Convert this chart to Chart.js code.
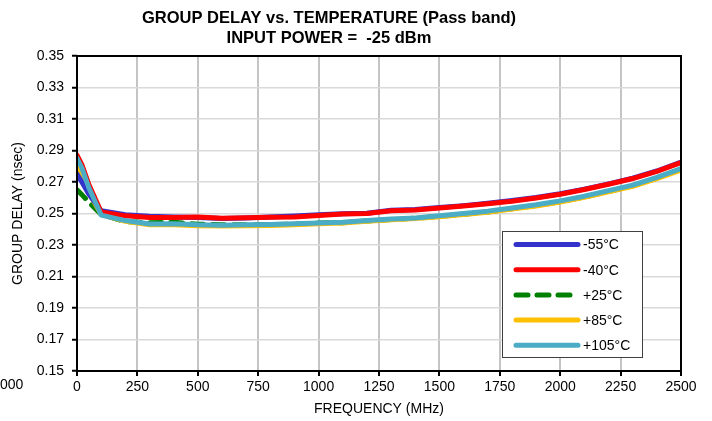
<!DOCTYPE html>
<html>
<head>
<meta charset="utf-8">
<script src="https://cdn.jsdelivr.net/npm/chart.js@4.4.1/dist/chart.umd.min.js"></script>
<style>
    body { margin: 0; background: #fff; }
    #wrap { width: 712px; height: 421px; }
</style>
</head>
<body>
<div id="wrap"><canvas id="myChart" width="712" height="421"></canvas></div>
<script>
const freqMHz = [0, 20, 50, 100, 200, 300, 400, 500, 600, 700, 800, 900, 1000, 1100, 1200, 1300, 1400, 1500, 1600, 1700, 1800, 1900, 2000, 2100, 2200, 2300, 2400, 2500]

const delayM55 = [0.275, 0.270, 0.262, 0.2518, 0.2492, 0.2482, 0.2478, 0.2475, 0.2468, 0.2472, 0.2478, 0.2484, 0.2492, 0.2498, 0.2502, 0.2520, 0.2525, 0.2538, 0.2550, 0.2565, 0.2582, 0.2601, 0.2625, 0.2655, 0.2688, 0.2724, 0.2770, 0.2826]
const delayM40 = [0.287, 0.281, 0.268, 0.2510, 0.2485, 0.2475, 0.2475, 0.2478, 0.2470, 0.2473, 0.2476, 0.2478, 0.2488, 0.2497, 0.2500, 0.2518, 0.2522, 0.2535, 0.2548, 0.2562, 0.2578, 0.2598, 0.2622, 0.2652, 0.2686, 0.2722, 0.2768, 0.2823]
const delayP25 = [0.265, 0.262, 0.257, 0.2495, 0.2448, 0.2442, 0.2445, 0.2432, 0.2428, 0.2428, 0.2430, 0.2433, 0.2440, 0.2442, 0.2452, 0.2462, 0.2470, 0.2482, 0.2495, 0.2510, 0.2530, 0.2550, 0.2575, 0.2605, 0.2640, 0.2675, 0.2725, 0.2780]
const delayP85 = [0.279, 0.274, 0.263, 0.2495, 0.2450, 0.2428, 0.2428, 0.2423, 0.2420, 0.2422, 0.2424, 0.2428, 0.2435, 0.2440, 0.2450, 0.2460, 0.2468, 0.2480, 0.2494, 0.2508, 0.2528, 0.2548, 0.2573, 0.2603, 0.2638, 0.2673, 0.2722, 0.2775]
const delayP105 = [0.285, 0.279, 0.266, 0.2490, 0.2455, 0.2433, 0.2435, 0.2428, 0.2425, 0.2428, 0.2430, 0.2435, 0.2440, 0.2445, 0.2455, 0.2465, 0.2472, 0.2485, 0.2500, 0.2515, 0.2535, 0.2555, 0.2580, 0.2610, 0.2645, 0.2680, 0.2730, 0.2785]

const seriesLabels = ['-55°C', '-40°C', '+25°C', '+85°C', '+105°C']
const titleLines = ['GROUP DELAY vs. TEMPERATURE (Pass band)', 'INPUT POWER =  -25 dBm']

const FONT = '"Liberation Sans", Arial, sans-serif'

const pts = (arr) => freqMHz.map((f, i) => ({x: f, y: arr[i]}))

// title, frame round the plot and the boxed legend inside it
const extras = {
    id: 'extras',
    afterDatasetsDraw(chart) {
        const ctx = chart.ctx
        const a = chart.chartArea
        ctx.save()
        ctx.strokeStyle = '#000'
        ctx.lineWidth = 2
        ctx.strokeRect(a.left, a.top, a.right - a.left, a.bottom - a.top)
        ctx.restore()
    },
    afterDraw(chart) {
        const ctx = chart.ctx
        ctx.save()
        ctx.fillStyle = '#000'
        ctx.textAlign = 'center'
        ctx.textBaseline = 'middle'
        ctx.font = 'bold 16.5px ' + FONT
        ctx.fillText(titleLines[0], 329, 18)
        ctx.fillText(titleLines[1], 329, 38)

        ctx.font = '14px ' + FONT
        ctx.textAlign = 'left'
        ctx.fillText('000', 0, 385)

        // legend
        const lx = 502, ly = 231, lw = 140, lh = 126
        ctx.fillStyle = '#fff'
        ctx.fillRect(lx, ly, lw, lh)
        ctx.strokeStyle = '#404040'
        ctx.lineWidth = 1
        ctx.strokeRect(lx + 0.5, ly + 0.5, lw, lh)
        chart.data.datasets.forEach((ds, i) => {
            const y = ly + 13.5 + i * 25.2
            ctx.beginPath()
            ctx.strokeStyle = ds.borderColor
            ctx.lineWidth = 5
            ctx.lineCap = 'round'
            ctx.setLineDash(ds.borderDash || [])
            ctx.moveTo(lx + 14, y)
            ctx.lineTo(lx + 76, y)
            ctx.stroke()
            ctx.setLineDash([])
            ctx.fillStyle = '#000'
            ctx.fillText(ds.label, lx + 81, y + 1)
        })
        ctx.restore()
    }
}

const ctx = document.getElementById('myChart').getContext('2d')
const chart = new Chart(ctx, {
    type: 'line',
    data: {
        datasets: [
            {label: seriesLabels[0], data: pts(delayM55), borderColor: '#3333cc', order: 2},
            {label: seriesLabels[1], data: pts(delayM40), borderColor: '#ff0000', order: 1},
            {label: seriesLabels[2], data: pts(delayP25), borderColor: '#008000', borderDash: [12, 9], order: 4},
            {label: seriesLabels[3], data: pts(delayP85), borderColor: '#ffc000', order: 3},
            {label: seriesLabels[4], data: pts(delayP105), borderColor: '#4bacc6', order: 0},
        ]
    },
    options: {
        responsive: false,
        animation: false,
        devicePixelRatio: 1,
        layout: {padding: {top: 56, right: 31, bottom: 0, left: 0}},
        elements: {
            line: {borderWidth: 5, tension: 0, borderCapStyle: 'round', borderJoinStyle: 'round', fill: false},
            point: {radius: 0}
        },
        plugins: {
            legend: {display: false},
            title: {display: false},
            tooltip: {enabled: false}
        },
        scales: {
            x: {
                type: 'linear',
                min: 0,
                max: 2500,
                afterFit: (s) => { s.height = 50 },
                ticks: {stepSize: 250, color: '#000', padding: 3, maxRotation: 0, font: {family: FONT, size: 14}, callback: (v) => String(v)},
                grid: {color: '#c4c4c4', lineWidth: 2, tickColor: '#000', tickLength: 5, tickWidth: 2},
                border: {display: false},
                title: {display: true, text: 'FREQUENCY (MHz)', color: '#000', font: {family: FONT, size: 14}, padding: {top: 0, bottom: 3}}
            },
            y: {
                min: 0.15,
                max: 0.35,
                afterFit: (s) => { s.width = 77 },
                ticks: {stepSize: 0.02, color: '#000', padding: 8, font: {family: FONT, size: 14}, callback: (v) => v.toFixed(2)},
                grid: {color: '#d9d9d9', lineWidth: 1.5, tickColor: '#000', tickLength: 5, tickWidth: 2},
                border: {display: false},
                title: {display: true, text: 'GROUP DELAY (nsec)', color: '#000', font: {family: FONT, size: 14}, padding: {top: 10, bottom: 0}}
            }
        }
    },
    plugins: [extras]
})
</script>
</body>
</html>
